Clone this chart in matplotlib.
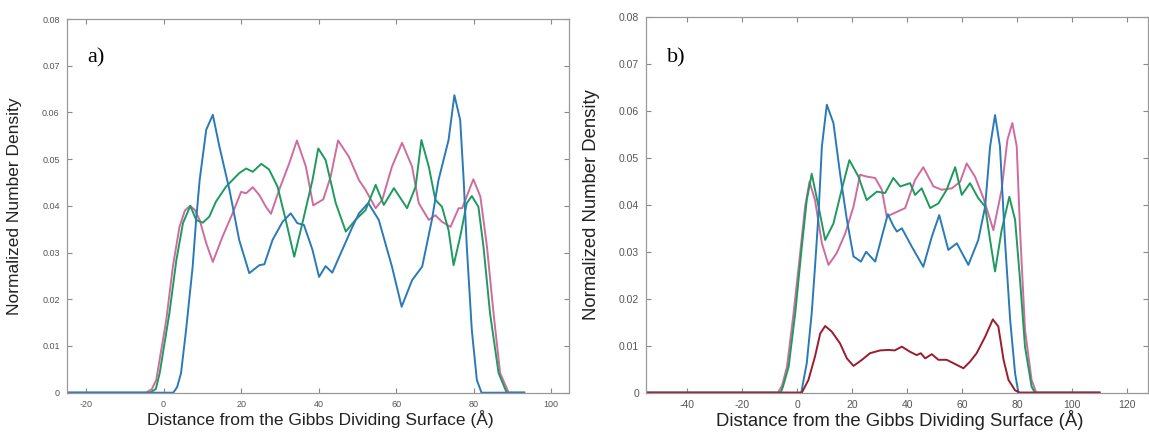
"""
Density profiles vs distance from the Gibbs dividing surface, panels a) and b).
Output: out.png
"""
import matplotlib
matplotlib.use("Agg")
import matplotlib.pyplot as plt

# ---- panel a) ----
blue_a_x = [-25, 2.5, 3.5, 4.5, 5.8, 7.5, 8.4, 9.3, 11.0, 12.7, 14.4, 17.0, 19.5, 22.1, 24.7, 26.0,
            28.1, 30.7, 32.8, 34.5, 36.2, 38.4, 40.1, 41.8, 43.5, 46.1, 48.7, 50.4, 52.8, 55.5,
            58.9, 61.4, 64.1, 66.7, 69.2, 70.9, 73.5, 75.0, 76.5, 77.4, 78.2, 79.5, 80.8, 82.0, 93]
blue_a_y = [0, 0, 0.0012, 0.0042, 0.0134, 0.027, 0.037, 0.0455, 0.0563, 0.0595, 0.0527, 0.0434,
            0.0327, 0.0256, 0.0273, 0.0275, 0.0327, 0.0366, 0.0384, 0.0363, 0.0359, 0.0306, 0.0248,
            0.0271, 0.0257, 0.0306, 0.0355, 0.0384, 0.0406, 0.037, 0.027, 0.0184, 0.0241, 0.027,
            0.037, 0.0455, 0.0541, 0.0637, 0.0584, 0.0455, 0.0313, 0.0134, 0.0027, 0, 0]

pink_a_x = [-25, -4.5, -3, -1.9, 0.7, 2.4, 4.1, 5.5, 6.8, 8.0, 9.3, 11.0, 12.7, 15.2, 17.8, 20.0,
            21.3, 23.0, 24.7, 26.4, 27.7, 29.8, 32.4, 34.4, 36.7, 38.6, 41.2, 43.1, 45.0, 47.8,
            50.4, 52.1, 54.7, 56.4, 58.9, 61.5, 64.1, 65.8, 68.4, 70.1, 71.8, 74.0, 76.1, 77.0,
            79.9, 81.7, 83.4, 85.1, 86.8, 89.0, 93]
pink_a_y = [0, 0, 0.0008, 0.0027, 0.0156, 0.027, 0.0355, 0.039, 0.040, 0.0392, 0.037, 0.032, 0.028,
            0.0334, 0.0384, 0.043, 0.0427, 0.044, 0.0423, 0.0398, 0.0383, 0.0434, 0.0491, 0.054,
            0.0484, 0.0401, 0.0414, 0.0463, 0.054, 0.0505, 0.0455, 0.0434, 0.0395, 0.0413, 0.0484,
            0.0535, 0.0484, 0.0406, 0.037, 0.038, 0.0366, 0.0355, 0.0395, 0.0395, 0.0457, 0.042,
            0.0313, 0.017, 0.0042, 0, 0]

green_a_x = [-25, -3.5, -2, -1.0, 1.5, 3.3, 5.0, 6.9, 8.4, 10.1, 11.8, 13.5, 16.1, 19.5, 21.3, 23.0,
             25.2, 27.2, 29.4, 31.5, 33.7, 35.8, 38.4, 39.9, 41.8, 44.4, 47.0, 49.5, 52.1, 54.7,
             56.8, 59.4, 62.8, 65.0, 66.5, 68.4, 70.1, 71.8, 73.5, 74.8, 76.5, 78.2, 79.5, 81.2,
             82.5, 84.2, 86.4, 88.5, 93]
green_a_y = [0, 0, 0.0008, 0.0042, 0.017, 0.0284, 0.0363, 0.040, 0.037, 0.0364, 0.0377, 0.0409,
             0.0441, 0.047, 0.048, 0.0473, 0.049, 0.0478, 0.0441, 0.037, 0.0291, 0.0363, 0.0455,
             0.0523, 0.0498, 0.0406, 0.0345, 0.037, 0.0391, 0.0445, 0.0402, 0.0438, 0.0395, 0.0441,
             0.0541, 0.0484, 0.0413, 0.0398, 0.0348, 0.0273, 0.0334, 0.0406, 0.0421, 0.0398,
             0.0313, 0.017, 0.0042, 0, 0]

# ---- panel b) ----
blue_b_x = [-55, 1.5, 3.5, 5.3, 6.5, 7.8, 9.0, 10.8, 13.2, 15.6, 18.1, 20.5, 23.2, 25.1, 28.4, 30.8,
            33.0, 35.0, 36.3, 38.1, 41.7, 45.9, 49.0, 51.7, 55.0, 58.1, 62.3, 65.9, 68.4, 70.2,
            72.0, 73.8, 75.6, 77.5, 79.3, 80.5, 110]
blue_b_y = [0, 0, 0.0063, 0.0169, 0.0268, 0.0382, 0.0524, 0.0613, 0.0574, 0.0467, 0.0368, 0.029,
            0.0279, 0.030, 0.0279, 0.0332, 0.038, 0.0355, 0.0343, 0.035, 0.0311, 0.0268, 0.0332,
            0.0378, 0.0304, 0.0318, 0.0272, 0.0325, 0.0396, 0.0524, 0.0591, 0.0524, 0.0325,
            0.0155, 0.0041, 0, 0]

pink_b_x = [-55, -7, -5.5, -3.7, -1.3, 1.1, 2.9, 4.5, 6.5, 9.0, 11.4, 14.4, 17.5, 20.5, 22.9, 25.3,
            28.4, 30.8, 32.6, 36.3, 39.3, 42.9, 45.9, 49.6, 52.6, 56.3, 59.3, 61.7, 64.7, 67.8,
            71.4, 74.4, 76.5, 78.3, 79.9, 81.1, 82.9, 85.3, 87.0, 110]
pink_b_y = [0, 0, 0.0015, 0.0055, 0.0169, 0.0297, 0.0396, 0.0449, 0.041, 0.0318, 0.0272, 0.0297,
            0.0339, 0.0396, 0.0464, 0.046, 0.0457, 0.0432, 0.0375, 0.0385, 0.0393, 0.0453, 0.048,
            0.0439, 0.0432, 0.0435, 0.0449, 0.0488, 0.046, 0.0414, 0.0346, 0.0432, 0.0538, 0.0574,
            0.0524, 0.0346, 0.0134, 0.0027, 0, 0]

green_b_x = [-55, -6, -5.2, -3.1, -0.7, 1.7, 3.5, 5.3, 7.8, 10.2, 13.2, 16.2, 19.0, 22.3, 25.3, 29.0,
             32.0, 35.0, 37.5, 41.1, 42.9, 45.3, 48.4, 51.4, 54.4, 57.5, 59.9, 62.9, 65.9, 68.4,
             70.2, 72.0, 74.4, 77.2, 79.3, 81.1, 82.9, 85.3, 86.5, 110]
green_b_y = [0, 0, 0.0012, 0.0055, 0.0169, 0.0311, 0.041, 0.0466, 0.0396, 0.0325, 0.036, 0.0432,
             0.0495, 0.046, 0.041, 0.0428, 0.0425, 0.0457, 0.0439, 0.0446, 0.0421, 0.0435, 0.0393,
             0.0403, 0.0432, 0.048, 0.0421, 0.0446, 0.0414, 0.0396, 0.0325, 0.0258, 0.0346, 0.0417,
             0.0368, 0.024, 0.0098, 0.0013, 0, 0]

red_b_x = [-55, 1.7, 4.1, 6.5, 8.4, 10.2, 12.6, 15.6, 18.1, 20.5, 23.6, 26.5, 30.2, 33.2, 35.5, 38.1,
           41.1, 43.5, 45.0, 46.6, 49.0, 51.4, 54.4, 56.8, 60.5, 62.9, 65.3, 68.4, 71.2, 73.2, 75.1,
           76.9, 79.3, 81, 110]
red_b_y = [0, 0, 0.0027, 0.0077, 0.0126, 0.0142, 0.013, 0.0105, 0.0073, 0.0057, 0.007, 0.0084,
           0.009, 0.0091, 0.009, 0.0098, 0.0087, 0.008, 0.0084, 0.0073, 0.0082, 0.007, 0.007,
           0.0063, 0.0052, 0.0066, 0.0084, 0.0119, 0.0156, 0.0141, 0.007, 0.0027, 0.0005, 0, 0]

yticks = [0, 0.01, 0.02, 0.03, 0.04, 0.05, 0.06, 0.07, 0.08]
ytick_labels = ["0", "0.01", "0.02", "0.03", "0.04", "0.05", "0.06", "0.07", "0.08"]
xticks_a = [-20, 0, 20, 40, 60, 80, 100]
xticks_b = [-40, -20, 0, 20, 40, 60, 80, 100, 120]

BLUE = "#2a7ab8"
GREEN = "#1f9a5f"
PINK = "#cf6c9f"
RED = "#9c1c2e"

XLABEL = "Distance from the Gibbs Dividing Surface (Å)"
YLABEL = "Normalized Number Density"

plt.rcParams["font.family"] = ["Liberation Sans", "DejaVu Sans"]
plt.rcParams["axes.unicode_minus"] = False


def style_axes(ax, xlim, xticks, tick_fs, label_fs, ylab_x):
    ax.set_xlim(*xlim)
    ax.set_ylim(0, 0.08)
    ax.set_xticks(xticks)
    ax.set_xticklabels([str(t) for t in xticks])
    ax.set_yticks(yticks)
    ax.set_yticklabels(ytick_labels)
    ax.tick_params(direction="in", length=3.5, width=0.8, color="#888888",
                   labelcolor="#555555", labelsize=tick_fs, top=True, right=True, pad=5)
    for sp in ax.spines.values():
        sp.set_color("#999999")
        sp.set_linewidth(0.9)
    ax.set_xlabel(XLABEL, fontsize=label_fs, color="#222222")
    ax.set_ylabel(YLABEL, fontsize=label_fs, color="#222222")
    ax.xaxis.set_label_coords(0.505, -0.046)
    ax.yaxis.set_label_coords(ylab_x, 0.5)


fig = plt.figure(figsize=(11.49, 4.37), dpi=100)
ax_a = fig.add_axes([0.058, 0.1014, 0.437, 0.855])
ax_b = fig.add_axes([0.5622, 0.1014, 0.4368, 0.860])

lw = 1.4
ax_a.plot(pink_a_x, pink_a_y, color=PINK, lw=lw)
ax_a.plot(green_a_x, green_a_y, color=GREEN, lw=lw)
ax_a.plot(blue_a_x, blue_a_y, color=BLUE, lw=lw)
style_axes(ax_a, (-25, 104.5), xticks_a, 6.5, 12.5, -0.088)
ax_a.text(0.042, 0.895, "a)", transform=ax_a.transAxes, fontsize=16,
          family="Liberation Serif", va="center", ha="left")

ax_b.plot(pink_b_x, pink_b_y, color=PINK, lw=lw)
ax_b.plot(green_b_x, green_b_y, color=GREEN, lw=lw)
ax_b.plot(blue_b_x, blue_b_y, color=BLUE, lw=lw)
ax_b.plot(red_b_x, red_b_y, color=RED, lw=lw)
style_axes(ax_b, (-55, 127.6), xticks_b, 7.5, 13.3, -0.092)
ax_b.text(0.042, 0.89, "b)", transform=ax_b.transAxes, fontsize=16,
          family="Liberation Serif", va="center", ha="left")

fig.savefig("out.png", dpi=100)
plt.close(fig)
